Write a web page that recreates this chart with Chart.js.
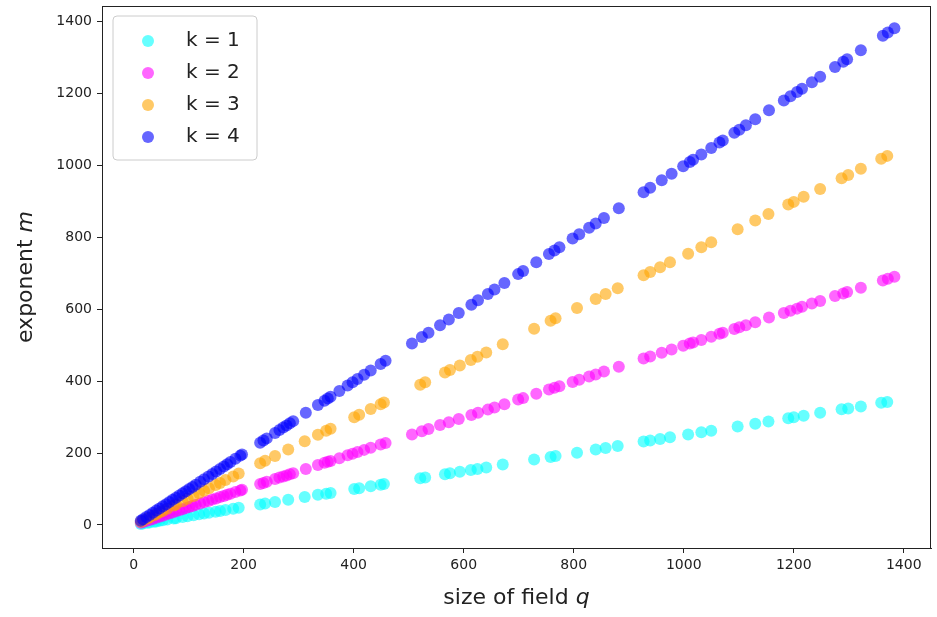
<!DOCTYPE html>
<html>
<head>
<meta charset="utf-8">
<script src="https://cdn.jsdelivr.net/npm/chart.js@4.4.1/dist/chart.umd.min.js"></script>
<style>
  html, body { margin: 0; padding: 0; background: #fff; }
</style>
</head>
<body>
<canvas id="field_chart" width="937" height="617"></canvas>
<script>
// field sizes q (k = 2 and k = 4 share these)
var qAll = [13,17,23,29,35,41,47,53,59,65,71,77,83,89,95,101,107,113,121,128,136,143,150,157,164,170,176,185,194,197,
  230,236,242,257,265,272,278,284,290,313,335,347,353,358,374,389,398,407,419,431,449,458,
  506,524,536,557,573,591,614,626,644,656,674,699,708,732,755,765,774,798,810,828,840,855,882,
  927,939,960,978,999,1011,1017,1032,1050,1065,1071,1092,1101,1113,1130,1155,1182,1194,1206,1215,1233,1248,1275,1290,1297,1322,1362,1371,1383];

// field sizes q (k = 1 and k = 3 share these)
var qSub = [13,17,25,29,37,41,47,53,61,73,77,89,98,109,119,128,137,149,157,167,181,191,
  230,239,257,281,311,335,350,358,401,410,431,449,455,
  521,530,566,575,593,613,625,641,671,728,758,767,806,840,858,880,
  927,939,957,975,1008,1032,1050,1098,1130,1154,1190,1200,1218,1248,1287,1299,1322,1359,1370];

var mK1 = [3,4,6,7,9,10,12,13,15,18,19,22,24,27,30,32,34,37,39,42,45,48,
  57,60,64,70,78,84,87,89,100,102,108,112,114,
  130,132,141,144,148,153,156,160,168,182,189,192,201,210,214,220,
  232,235,239,244,252,258,262,274,282,288,297,300,304,312,322,324,330,340,342];

var mK2 = [6,8,11,14,17,20,23,26,29,32,35,38,41,44,47,50,53,56,60,63,67,71,74,78,81,84,87,92,96,98,
  114,117,120,128,132,135,138,141,144,156,167,173,176,178,186,194,198,203,209,215,224,228,
  252,261,267,278,286,295,306,312,321,327,336,349,353,365,377,382,386,398,404,413,419,427,440,
  463,469,479,488,499,505,508,515,524,532,535,545,550,556,564,577,590,596,602,607,616,623,637,644,648,660,680,685,691];

var mK3 = [9,12,18,21,27,30,35,39,45,54,57,66,73,81,89,95,102,111,117,125,135,143,
  172,179,192,210,233,251,262,268,300,307,323,336,341,
  390,397,424,431,444,459,468,480,503,546,568,575,604,629,643,659,
  695,704,717,731,755,773,787,823,847,865,892,899,913,935,965,974,991,1019,1027];

var mK4 = [12,16,22,28,34,40,46,52,58,64,70,76,82,88,94,100,106,112,120,127,135,142,149,156,163,169,175,184,193,196,
  229,235,241,256,264,271,277,283,289,312,334,346,352,357,373,388,397,406,418,430,448,457,
  505,523,535,556,572,590,613,625,643,655,673,698,707,731,754,764,773,797,809,827,839,854,881,
  926,938,959,977,998,1010,1016,1031,1049,1064,1070,1091,1100,1112,1129,1154,1181,1193,1205,1214,1232,1247,1274,1289,1296,1321,1361,1370,1382];

var seriesLabels = ['k = 1', 'k = 2', 'k = 3', 'k = 4'];
var seriesColors = ['rgba(0,255,255,0.6)', 'rgba(255,0,255,0.6)', 'rgba(255,165,0,0.6)', 'rgba(0,0,255,0.6)'];
var xTicks = [0, 200, 400, 600, 800, 1000, 1200, 1400];
var yTicks = [0, 200, 400, 600, 800, 1000, 1200, 1400];

var FONT = "'DejaVu Sans', sans-serif";
var INK = '#222';

function pts(qs, ms) {
  return qs.map(function(q, i) { return {x: q, y: ms[i]}; });
}

var allSets = [pts(qSub, mK1), pts(qAll, mK2), pts(qSub, mK3), pts(qAll, mK4)];

// frame, axis titles with italic symbols, legend box
var decor = {
  id: 'decor',
  afterDraw: function(chart) {
    var c = chart.ctx, a = chart.chartArea;
    c.save();
    c.strokeStyle = INK;
    c.lineWidth = 1;
    c.strokeRect(a.left + 0.5, a.top + 0.5, a.right - a.left - 1, a.bottom - a.top);

    // x title
    c.fillStyle = INK;
    c.textBaseline = 'middle';
    c.textAlign = 'left';
    var n1 = '22px ' + FONT, i1 = 'italic 22px ' + FONT;
    c.font = n1; var w1 = c.measureText('size of field ').width;
    c.font = i1; var w2 = c.measureText('q').width;
    var sx = (a.left + a.right) / 2 - (w1 + w2) / 2;
    c.font = n1; c.fillText('size of field ', sx, 598);
    c.font = i1; c.fillText('q', sx + w1, 598);

    // y title
    c.save();
    c.translate(26, (a.top + a.bottom) / 2);
    c.rotate(-Math.PI / 2);
    c.font = n1; var v1 = c.measureText('exponent ').width;
    c.font = i1; var v2 = c.measureText('m').width;
    var sy = -(v1 + v2) / 2;
    c.font = n1; c.fillText('exponent ', sy, 0);
    c.font = i1; c.fillText('m', sy + v1, 0);
    c.restore();

    // legend
    var bx = 113, by = 16, bw = 144, bh = 144, r = 4;
    c.beginPath();
    c.moveTo(bx + r, by);
    c.arcTo(bx + bw, by, bx + bw, by + bh, r);
    c.arcTo(bx + bw, by + bh, bx, by + bh, r);
    c.arcTo(bx, by + bh, bx, by, r);
    c.arcTo(bx, by, bx + bw, by, r);
    c.closePath();
    c.fillStyle = 'rgba(255,255,255,0.8)';
    c.fill();
    c.strokeStyle = '#cccccc';
    c.stroke();
    c.font = '20px ' + FONT;
    for (var i = 0; i < 4; i++) {
      var ly = 41 + i * 32;
      c.beginPath();
      c.arc(148, ly, 6, 0, Math.PI * 2);
      c.fillStyle = seriesColors[i];
      c.fill();
      c.fillStyle = INK;
      c.fillText(seriesLabels[i], 186, ly);
    }
    c.restore();
  }
};

function plain(v) { return String(v); }

var config = {
  type: 'scatter',
  data: {
    datasets: allSets.map(function(d, i) {
      return {
        label: seriesLabels[i],
        data: d,
        backgroundColor: seriesColors[i],
        borderWidth: 0,
        pointRadius: 6,
        order: 4 - i
      };
    })
  },
  options: {
    responsive: false,
    animation: false,
    layout: { padding: { top: 6, right: 0, left: 0, bottom: 0 } },
    plugins: {
      legend: { display: false },
      tooltip: { enabled: false }
    },
    scales: {
      x: {
        type: 'linear',
        min: -57.5,
        max: 1449.5,
        afterBuildTicks: function(s) { s.ticks = xTicks.map(function(v) { return {value: v}; }); },
        afterFit: function(s) { s.height = 69; s.paddingLeft = 0; s.paddingRight = 0; },
        ticks: { font: { family: FONT, size: 14 }, color: INK, padding: 4, maxRotation: 0, callback: plain },
        grid: { drawOnChartArea: false, drawTicks: true, tickLength: 5, color: INK },
        border: { color: INK }
      },
      y: {
        type: 'linear',
        min: -64,
        max: 1444,
        afterBuildTicks: function(s) { s.ticks = yTicks.map(function(v) { return {value: v}; }); },
        afterFit: function(s) { s.width = 102; s.paddingTop = 0; s.paddingBottom = 0; },
        ticks: { font: { family: FONT, size: 14 }, color: INK, padding: 5, callback: plain },
        grid: { drawOnChartArea: false, drawTicks: true, tickLength: 5, color: INK },
        border: { color: INK }
      }
    }
  },
  plugins: [decor]
};

window.onload = function() {
  var ctx = document.getElementById('field_chart').getContext('2d');
  window.fieldChart = new Chart(ctx, config);
};
</script>
</body>
</html>
